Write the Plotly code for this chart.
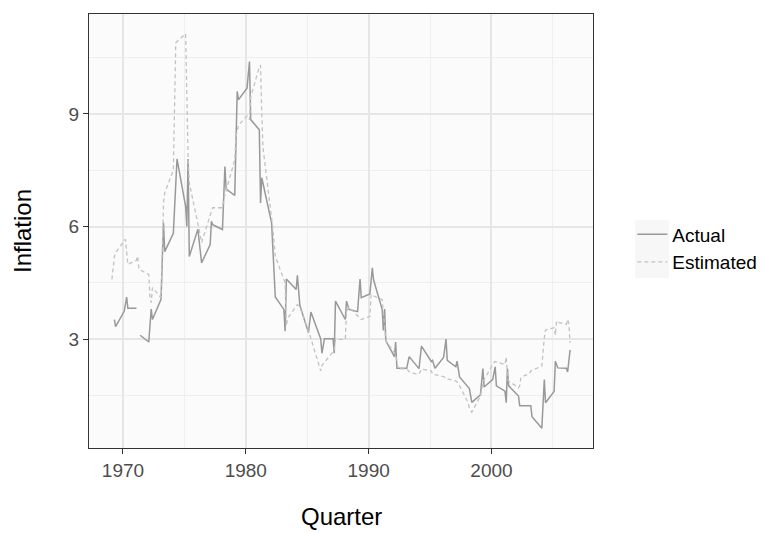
import plotly.graph_objects as go

# Quarter coded as year + quarter/10 ; None marks a missing value
actual_quarter = [1969.3, 1969.4, 1970.1, 1970.3, 1970.4, 1971.1, 1971.2, 1971.4,
                  1972.1, 1972.3, 1972.4, 1973.1, 1973.3, 1973.4, 1974.1, 1974.4,
                  1975.1, 1975.2, 1975.3, 1975.4, 1976.1, 1976.4, 1977.1, 1977.2,
                  1977.3, 1978.1, 1978.3, 1978.4, 1979.1, 1979.3, 1979.4, 1980.1,
                  1980.3, 1980.4, 1981.1, 1981.2, 1981.3, 1982.1, 1982.4, 1983.1,
                  1983.2, 1983.3, 1984.1, 1984.2, 1984.4, 1985.1, 1985.3, 1986.1,
                  1986.2, 1986.4, 1987.1, 1987.2, 1987.3, 1988.1, 1988.2, 1988.4,
                  1989.1, 1989.3, 1989.4, 1990.1, 1990.3, 1990.4, 1991.1, 1991.2,
                  1991.3, 1991.4, 1992.1, 1992.2, 1992.3, 1993.1, 1993.3, 1994.1,
                  1994.3, 1995.1, 1995.2, 1995.4, 1996.1, 1996.3, 1996.4, 1997.1,
                  1997.2, 1997.4, 1998.1, 1998.2, 1998.4, 1999.1, 1999.3, 1999.4,
                  2000.1, 2000.3, 2000.4, 2001.1, 2001.2, 2001.3, 2001.4, 2002.2,
                  2002.3, 2003.2, 2003.3, 2004.1, 2004.3, 2004.4, 2005.1, 2005.2,
                  2005.4, 2006.1, 2006.2, 2006.4]
actual_values = [3.52, 3.33, 3.74, 4.12, 3.82, 3.82, None, 3.10,
                 2.92, 3.80, 3.52, 4.06, 6.10, 5.33, 5.82, 7.80,
                 6.54, 6.00, 7.80, 5.20, 5.93, 5.03, 5.52, 6.14,
                 6.05, 5.92, 7.60, 7.00, 6.83, 9.60, 9.38, 9.69,
                 10.40, 8.85, 8.58, 6.63, 7.30, 6.10, 4.12, 3.79,
                 3.21, 4.60, 4.32, 4.70, 3.90, 3.17, 3.72, 3.00,
                 2.62, 3.01, 3.01, 2.62, 4.01, 3.52, 4.01, 3.79,
                 3.73, 4.60, 4.10, 4.20, 4.90, 4.58, 3.79, 3.23,
                 3.80, 2.95, 2.53, 2.92, 2.22, 2.22, 2.53, 2.21,
                 2.81, 2.40, 2.43, 2.22, 2.51, 3.00, 2.43, 2.26,
                 2.41, 1.99, 1.70, 1.68, 1.31, 1.51, 2.21, 1.72,
                 1.92, 2.26, 1.75, 1.61, 1.30, 2.21, 1.75, 1.48,
                 1.22, 1.22, 0.93, 0.62, 1.92, 1.30, 1.60, 2.41,
                 2.23, 2.22, 2.12, 2.71]

estimated_quarter = [1969.1, 1969.3, 1969.4, 1970.2, 1970.4, 1971.1, 1971.2, 1971.3,
                     1972.1, 1972.2, 1972.3, 1972.4, 1973.1, 1973.3, 1973.4, 1974.1,
                     1974.3, 1975.1, 1975.3, 1975.4, 1976.2, 1976.4, 1977.2, 1977.3,
                     1978.1, 1978.2, 1979.1, 1979.2, 1979.4, 1980.1, 1980.3, 1980.4,
                     1981.1, 1981.2, 1981.3, 1981.4, 1982.2, 1982.4, 1983.2, 1983.3,
                     1983.4, 1984.2, 1984.4, 1985.2, 1986.1, 1986.2, 1987.2, 1987.3,
                     1988.1, 1988.2, 1988.4, 1989.3, 1989.4, 1990.1, 1990.2, 1990.4,
                     1991.1, 1991.3, 1991.4, 1992.2, 1992.4, 1993.1, 1993.4, 1994.1,
                     1994.3, 1995.1, 1995.2, 1996.1, 1996.3, 1997.1, 1997.3, 1998.1,
                     1998.2, 1998.4, 1999.1, 1999.2, 1999.4, 2000.2, 2000.3, 2001.1,
                     2001.2, 2001.3, 2001.4, 2002.2, 2002.3, 2002.4, 2003.1, 2003.2,
                     2004.1, 2004.3, 2004.4, 2005.1, 2005.2, 2005.3, 2005.4, 2006.1,
                     2006.2, 2006.3, 2006.4]
estimated_values = [4.59, 5.19, 5.30, 5.66, 4.99, 5.10, 5.21, 4.86,
                    4.72, 4.10, 3.97, 4.37, 4.10, 6.63, 6.90, 7.50,
                    10.90, 11.14, 7.85, 7.16, 5.92, 5.57, 6.40, 6.50,
                    6.50, 6.72, 7.78, 8.40, 8.70, 8.95, 8.85, 9.45,
                    10.25, 10.30, 9.00, 8.10, 5.95, 5.20, 4.50, 3.35,
                    3.55, 3.92, 3.85, 3.12, 2.15, 2.30, 2.70, 2.99,
                    2.99, 3.74, 3.85, 3.57, 3.52, 3.60, 4.19, 4.15,
                    4.05, 3.34, 2.95, 2.59, 2.21, 2.20, 2.10, 2.06,
                    2.20, 2.15, 2.06, 2.00, 1.95, 1.88, 1.82, 1.30,
                    1.15, 1.05, 1.48, 1.66, 1.92, 2.37, 2.40, 2.32,
                    2.52, 1.97, 1.88, 1.70, 1.75, 1.98, 2.08, 2.15,
                    2.28, 3.03, 3.24, 3.30, 3.10, 3.48, 3.45, 3.39,
                    3.52, 3.40, 2.90]

x_ticks = [1970, 1980, 1990, 2000]
y_ticks = [3, 6, 9]
series_names = ["Actual", "Estimated"]
x_title = "Quarter"
y_title = "Inflation"

FONT = "Liberation Sans, Arial, Helvetica, sans-serif"

fig = go.Figure()
fig.add_trace(go.Scatter(x=actual_quarter, y=actual_values, mode="lines",
                         name=series_names[0], connectgaps=False,
                         line=dict(color="#999999", width=1.5)))
fig.add_trace(go.Scatter(x=estimated_quarter, y=estimated_values, mode="lines",
                         name=series_names[1], connectgaps=False,
                         line=dict(color="#c2c2c2", width=1.3, dash="4px,3px")))

# ggplot-style 5% expansion of the data range
all_x = actual_quarter + estimated_quarter
all_y = [v for v in actual_values + estimated_values if v is not None]
xr = max(all_x) - min(all_x)
yr = max(all_y) - min(all_y)
x_range = [min(all_x) - 0.05 * xr, max(all_x) + 0.05 * xr]
y_range = [min(all_y) - 0.05 * yr, max(all_y) + 0.05 * yr]

axis_common = dict(showline=True, linecolor="#333333", linewidth=1.3, mirror=True,
                   ticks="outside", ticklen=5, tickwidth=1.3, tickcolor="#333333",
                   gridcolor="#e6e6e6", gridwidth=1.6, zeroline=False,
                   tickfont=dict(family=FONT, size=19, color="#4d4d4d"))

fig.update_xaxes(range=x_range, tickvals=x_ticks,
                 minor=dict(dtick=5, tick0=1965, showgrid=True, gridcolor="#efefef",
                            gridwidth=0.9, ticks=""),
                 **axis_common)
fig.update_yaxes(range=y_range, tickvals=y_ticks,
                 minor=dict(dtick=1.5, tick0=0, showgrid=True, gridcolor="#efefef",
                            gridwidth=0.9, ticks=""),
                 **axis_common)

# page body adds an 8px offset; size the figure so it fits the window
W, H = 757, 525
L, T = 81, 6
PW, PH = 504, 434
fig.update_layout(
    width=W, height=H,
    margin=dict(l=L, r=W - L - PW, t=T, b=H - T - PH, autoexpand=False),
    paper_bgcolor="white", plot_bgcolor="#fbfbfb",
    font=dict(family=FONT, color="black"),
    showlegend=True,
    legend=dict(x=1.078, y=0.46, xanchor="left", yanchor="middle",
                bgcolor="rgba(0,0,0,0)", borderwidth=0, itemwidth=30,
                tracegroupgap=0,
                font=dict(family=FONT, size=19, color="black")),
    shapes=[
        # faint legend-key background, as in the ggplot legend
        dict(type="rect", xref="paper", yref="paper", layer="below",
             x0=(627 - L) / PW, x1=(661 - L) / PW,
             y0=(T + PH - 270) / PH, y1=(T + PH - 212) / PH,
             fillcolor="#f7f7f7", line=dict(width=0)),
    ],
    annotations=[
        dict(text=x_title, xref="paper", yref="paper", x=0.5, y=-69 / PH,
             xanchor="center", yanchor="middle", showarrow=False,
             font=dict(family=FONT, size=24, color="black")),
        dict(text=y_title, xref="paper", yref="paper", x=-67 / PW, y=0.5,
             xanchor="center", yanchor="middle", showarrow=False, textangle=-90,
             font=dict(family=FONT, size=24, color="black")),
    ],
)

fig.write_html("out.html")
